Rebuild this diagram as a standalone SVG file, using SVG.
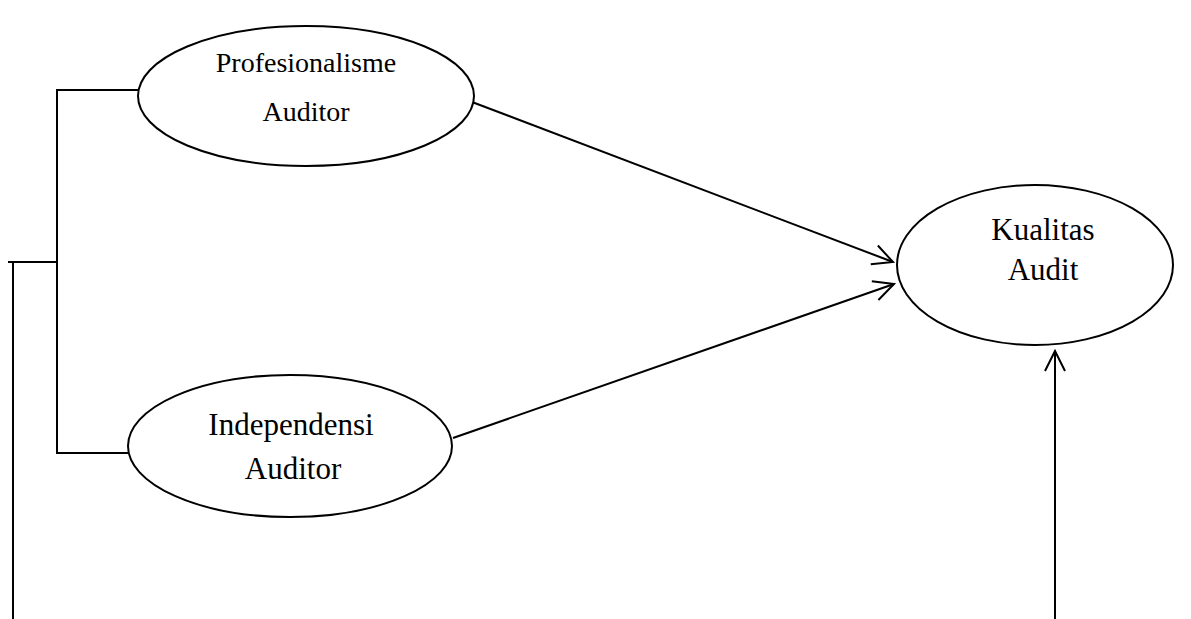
<svg xmlns="http://www.w3.org/2000/svg" width="1191" height="619" viewBox="0 0 1191 619">
<style>
.n{fill:#fff;stroke:#000;stroke-width:2}
.c{fill:none;stroke:#000;stroke-width:2}
text{font-family:"Liberation Serif","Times New Roman",serif;fill:#000;text-anchor:middle}
</style>
<defs>
<marker id="a" markerUnits="userSpaceOnUse" markerWidth="30" markerHeight="30" refX="22" refY="12" orient="auto">
<path d="M2 2 L22 12 L2 22" fill="none" stroke="#000" stroke-width="2"/>
</marker>
</defs>
<g id="connectors">
<polyline class="c" points="138,90 57,90 57,453 138,453"/>
<polyline class="c" points="57,262 8,262"/>
<line class="c" x1="13" y1="262" x2="13" y2="619"/>
<line class="c" x1="472" y1="102" x2="893" y2="262" marker-end="url(#a)"/>
<line class="c" x1="453" y1="438" x2="894" y2="284" marker-end="url(#a)"/>
<line class="c" x1="1055" y1="619" x2="1055" y2="351" marker-end="url(#a)"/>
</g>
<g id="profesionalisme">
<ellipse class="n" cx="306" cy="96" rx="168" ry="70"/>
<text x="306" y="72" font-size="28">Profesionalisme</text>
<text x="306" y="121" font-size="28">Auditor</text>
</g>
<g id="independensi">
<ellipse class="n" cx="290" cy="446" rx="162" ry="71"/>
<text x="291" y="435" font-size="31">Independensi</text>
<text x="293" y="479" font-size="31">Auditor</text>
</g>
<g id="kualitas">
<ellipse class="n" cx="1035" cy="265" rx="138" ry="80"/>
<text x="1043" y="240" font-size="31">Kualitas</text>
<text x="1043" y="280" font-size="31">Audit</text>
</g>
</svg>
